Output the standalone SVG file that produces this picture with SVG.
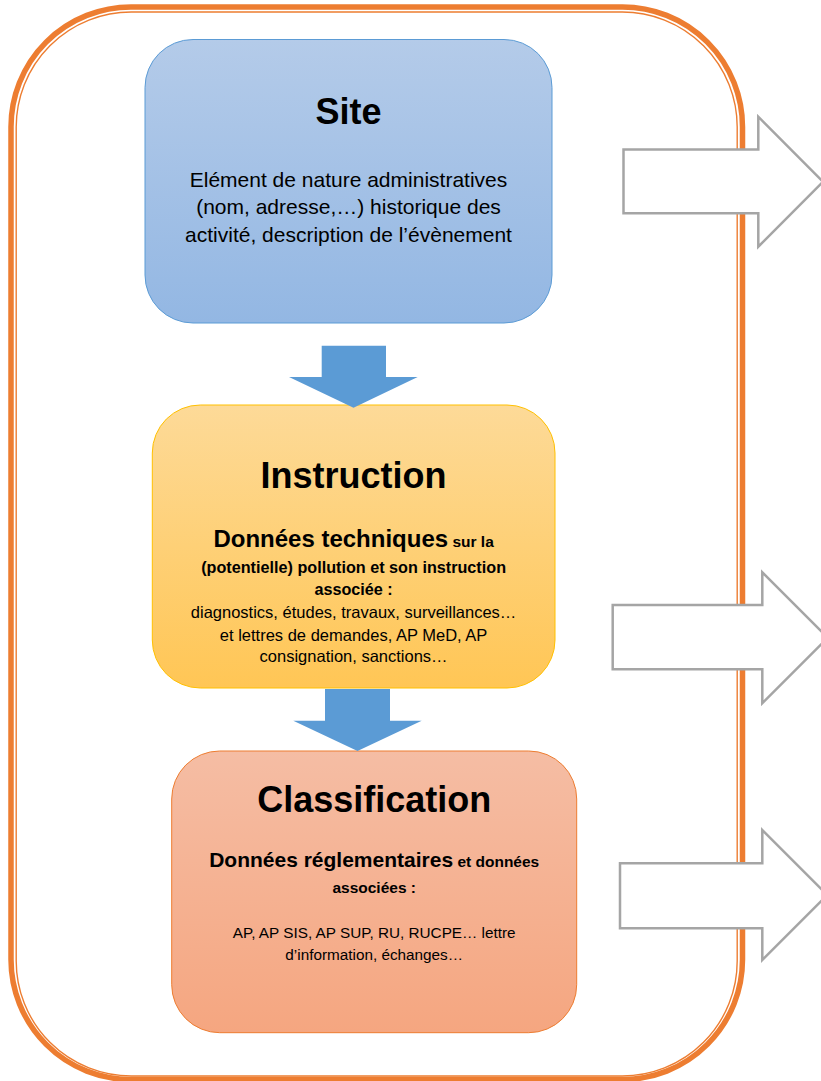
<svg xmlns="http://www.w3.org/2000/svg" width="821" height="1081" viewBox="0 0 821 1081">
<defs>
<linearGradient id="gBlue" x1="0" y1="0" x2="0" y2="1"><stop offset="0" stop-color="#B4CBE9"/><stop offset="1" stop-color="#93B7E3"/></linearGradient>
<linearGradient id="gYellow" x1="0" y1="0" x2="0" y2="1"><stop offset="0" stop-color="#FDDA98"/><stop offset="1" stop-color="#FFC655"/></linearGradient>
<linearGradient id="gOrange" x1="0" y1="0" x2="0" y2="1"><stop offset="0" stop-color="#F5BDA4"/><stop offset="1" stop-color="#F5A680"/></linearGradient>
<style>
text{font-family:"Liberation Sans",Arial,sans-serif;fill:#000;text-anchor:middle}
.title{font-size:36px;font-weight:bold}
.b{font-weight:bold}
.frame{fill:none;stroke:#ED7D31}
.down{fill:#5B9BD5}
.out{fill:#FFFFFF;stroke:#A5A5A5;stroke-width:2.5;stroke-linejoin:miter}
</style>
</defs>
<rect fill="#FFFFFF" x="0" y="0" width="821" height="1081"/>
<g id="frame">
<rect class="frame" x="11" y="7" width="731.5" height="1072.5" rx="120" ry="120" stroke-width="5.5"/>
<rect class="frame" x="16.2" y="12" width="721" height="1064" rx="115" ry="115" stroke-width="1.4"/>
</g>
<g id="site">
<rect x="145" y="39.5" width="407" height="283.5" rx="48" ry="48" fill="url(#gBlue)" stroke="#5B9BD5" stroke-width="1"/>
<text class="title" x="348.5" y="124.3">Site</text>
<text x="348.5" y="187" font-size="21">Elément de nature administratives</text>
<text x="348.5" y="214" font-size="21">(nom, adresse,…) historique des</text>
<text x="348.5" y="241.5" font-size="21">activité, description de l’évènement</text>
</g>
<g id="instruction">
<rect x="152.3" y="405" width="402.7" height="283" rx="48" ry="48" fill="url(#gYellow)" stroke="#FFC000" stroke-width="1"/>
<text class="title" x="353.6" y="487.7">Instruction</text>
<text class="b" x="353.6" y="546.7"><tspan font-size="24">Données techniques</tspan><tspan font-size="15.5"> sur la</tspan></text>
<text class="b" x="353.6" y="572.7" font-size="16.2">(potentielle) pollution et son instruction</text>
<text class="b" x="353.6" y="594.5" font-size="16.2">associée :</text>
<text x="353.6" y="618" font-size="16.5">diagnostics, études, travaux, surveillances…</text>
<text x="353.6" y="640.5" font-size="16.5">et lettres de demandes, AP MeD, AP</text>
<text x="353.6" y="662" font-size="16.5">consignation, sanctions…</text>
</g>
<g id="classification">
<rect x="171.7" y="751" width="405" height="281.7" rx="48" ry="48" fill="url(#gOrange)" stroke="#ED7D31" stroke-width="1"/>
<text class="title" x="374.2" y="811.7">Classification</text>
<text class="b" x="374.2" y="866.7"><tspan font-size="21">Données réglementaires</tspan><tspan font-size="15.5"> et données</tspan></text>
<text class="b" x="374.2" y="892.7" font-size="15.5">associées :</text>
<text x="374.2" y="937.5" font-size="15.3">AP, AP SIS, AP SUP, RU, RUCPE… lettre</text>
<text x="374.2" y="959.5" font-size="15.3">d’information, échanges…</text>
</g>
<g id="connectors">
<polygon class="down" points="321.7,345.7 386,345.7 386,377 417.7,377 353.5,407.7 289,377 321.7,377"/>
<polygon class="down" points="325,689 390,689 390,720.7 421.7,720.7 357.5,751 293.3,720.7 325,720.7"/>
<polygon class="out" points="623.5,149.5 758.3,149.5 758.3,116.7 823,181.7 758.3,246.7 758.3,213.3 623.5,213.3"/>
<polygon class="out" points="612.7,605 762.3,605 762.3,572.3 827.8,637.8 762.3,703.3 762.3,669.3 612.7,669.3"/>
<polygon class="out" points="620,863.3 762.3,863.3 762.3,830 827.3,895 762.3,960 762.3,928.3 620,928.3"/>
</g>
</svg>
